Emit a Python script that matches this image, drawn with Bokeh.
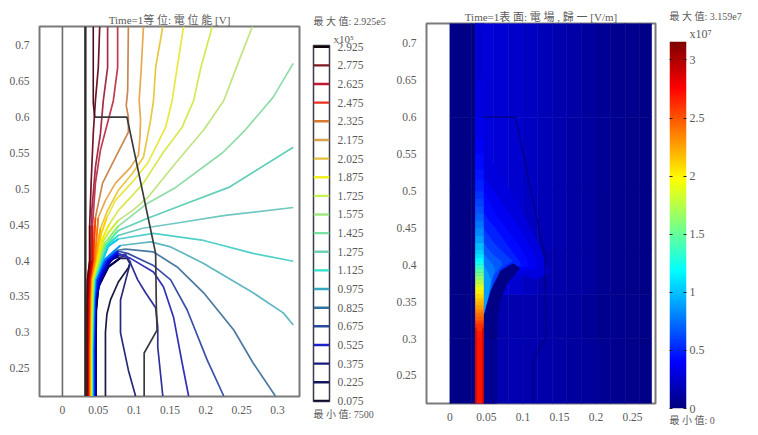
import numpy as np
from bokeh.embed import file_html
from bokeh.layouts import column, row
from bokeh.models import (ColumnDataSource, FixedTicker, LinearAxis, LinearColorMapper, Range1d, Title)
from bokeh.plotting import figure
from bokeh.resources import INLINE
from bokeh.transform import transform

FONT = "Liberation Serif, Noto Sans CJK TC"
INK = "#5a5a5a"

x_ticks = [0, 0.05, 0.1, 0.15, 0.2, 0.25, 0.3]
x_ticks_r = [0, 0.05, 0.1, 0.15, 0.2, 0.25]
y_ticks = [0.25, 0.3, 0.35, 0.4, 0.45, 0.5, 0.55, 0.6, 0.65, 0.7]

levels = [0.075, 0.225, 0.375, 0.525, 0.675, 0.825, 0.975, 1.125, 1.275, 1.425,
          1.575, 1.725, 1.875, 2.025, 2.175, 2.325, 2.475, 2.625, 2.775, 2.925]
level_labels = ["0.075", "0.225", "0.375", "0.525", "0.675", "0.825", "0.975", "1.125", "1.275", "1.425",
                "1.575", "1.725", "1.875", "2.025", "2.175", "2.325", "2.475", "2.625", "2.775", "2.925"]
legend_colors = ["#0c0c30", "#14145e", "#1a1a80", "#2020c8", "#2a4a9e", "#2e70a0", "#38a8c0", "#30e0c8", "#70d0b0", "#78e0a0",
                 "#a0e880", "#c8f050", "#f0f020", "#e0c040", "#d8a050", "#d87830", "#e83020", "#c01830", "#801820", "#100808"]
line_colors = ["#1a1a40", "#28287a", "#30309a", "#3030b8", "#3a50a8", "#4a7aa0", "#60b8c0", "#50d0c8", "#70c8c0", "#60d0b8",
               "#90dca8", "#c0e480", "#d8e850", "#e8e840", "#e8c840", "#e8a850", "#c88850", "#c03a50", "#a82c48", "#701828"]
bundle_colors = ["#000050", "#000078", "#0000a0", "#0000d0", "#0020f0", "#0050ff", "#0090ff", "#00c8f0", "#20e0d0", "#50f0a0",
                 "#90f060", "#c8f030", "#f0f000", "#ffd000", "#ffa800", "#ff7800", "#f84000", "#e01000", "#b00000", "#700000"]

c_x = [
    [0.06, 0.06, 0.062, 0.067, 0.078, 0.092, 0.094, 0.09, 0.08, 0.064, 0.05, 0.047, 0.0465, 0.0465],
    [0.102, 0.092, 0.081, 0.081, 0.092, 0.095, 0.088, 0.07, 0.053, 0.0465, 0.046, 0.046],
    [0.14, 0.133, 0.133, 0.13, 0.116, 0.105, 0.095, 0.088, 0.078, 0.067, 0.053, 0.046, 0.0453, 0.0453],
    [0.176, 0.167, 0.155, 0.141, 0.127, 0.095, 0.078, 0.064, 0.052, 0.0455, 0.0446, 0.0446],
    [0.225, 0.202, 0.174, 0.151, 0.127, 0.091, 0.078, 0.061, 0.049, 0.045, 0.0439, 0.0439],
    [0.297, 0.266, 0.239, 0.197, 0.16, 0.127, 0.088, 0.074, 0.059, 0.047, 0.0445, 0.0432, 0.0432],
    [0.322, 0.308, 0.266, 0.197, 0.151, 0.123, 0.081, 0.057, 0.046, 0.044, 0.0425, 0.0425],
    [0.322, 0.266, 0.197, 0.127, 0.078, 0.064, 0.056, 0.0453, 0.0435, 0.0418, 0.0418],
    [0.322, 0.227, 0.158, 0.112, 0.078, 0.061, 0.054, 0.0446, 0.043, 0.0414, 0.0414],
    [0.322, 0.232, 0.158, 0.119, 0.078, 0.06, 0.053, 0.044, 0.0425, 0.041, 0.041],
    [0.322, 0.294, 0.255, 0.223, 0.204, 0.158, 0.119, 0.078, 0.059, 0.052, 0.043, 0.042, 0.0404, 0.0404],
    [0.265, 0.248, 0.225, 0.197, 0.158, 0.119, 0.098, 0.078, 0.065, 0.057, 0.05, 0.0425, 0.0413, 0.0399, 0.0399],
    [0.209, 0.193, 0.183, 0.167, 0.14, 0.113, 0.095, 0.078, 0.065, 0.056, 0.049, 0.042, 0.0405, 0.0393, 0.0393],
    [0.169, 0.16, 0.153, 0.144, 0.119, 0.098, 0.074, 0.062, 0.054, 0.047, 0.0415, 0.04, 0.0388, 0.0388],
    [0.14, 0.13, 0.127, 0.123, 0.113, 0.098, 0.078, 0.063, 0.053, 0.046, 0.04, 0.0392, 0.0382, 0.0382],
    [0.113, 0.11, 0.107, 0.109, 0.108, 0.106, 0.095, 0.074, 0.06, 0.05, 0.045, 0.0395, 0.0385, 0.0376, 0.0376],
    [0.092, 0.091, 0.089, 0.092, 0.092, 0.074, 0.056, 0.046, 0.043, 0.0385, 0.0378, 0.0367, 0.0367],
    [0.077, 0.077, 0.071, 0.064, 0.053, 0.046, 0.042, 0.042, 0.038, 0.037, 0.036, 0.036],
    [0.063, 0.063, 0.057, 0.053, 0.046, 0.041, 0.04, 0.0365, 0.0355, 0.0349, 0.0349],
    [0.052, 0.05, 0.046, 0.043, 0.04, 0.038, 0.038, 0.035, 0.0345, 0.034, 0.034],
]
c_y = [
    [0.211, 0.3, 0.325, 0.345, 0.37, 0.39, 0.396, 0.403, 0.403, 0.391, 0.363, 0.33, 0.28, 0.211],
    [0.211, 0.247, 0.299, 0.345, 0.387, 0.398, 0.406, 0.403, 0.38, 0.338, 0.275, 0.211],
    [0.211, 0.279, 0.307, 0.334, 0.355, 0.373, 0.396, 0.409, 0.407, 0.4, 0.373, 0.345, 0.275, 0.211],
    [0.211, 0.257, 0.321, 0.363, 0.384, 0.403, 0.41, 0.4, 0.373, 0.345, 0.275, 0.211],
    [0.211, 0.261, 0.331, 0.373, 0.393, 0.41, 0.413, 0.4, 0.373, 0.345, 0.275, 0.211],
    [0.211, 0.257, 0.303, 0.355, 0.391, 0.412, 0.416, 0.414, 0.4, 0.373, 0.345, 0.275, 0.211],
    [0.31, 0.327, 0.355, 0.396, 0.419, 0.426, 0.421, 0.4, 0.373, 0.345, 0.275, 0.211],
    [0.399, 0.41, 0.428, 0.438, 0.43, 0.42, 0.4, 0.373, 0.345, 0.275, 0.211],
    [0.474, 0.463, 0.452, 0.445, 0.435, 0.42, 0.4, 0.373, 0.345, 0.275, 0.211],
    [0.558, 0.502, 0.474, 0.459, 0.442, 0.421, 0.4, 0.373, 0.345, 0.275, 0.211],
    [0.675, 0.628, 0.582, 0.55, 0.536, 0.502, 0.48, 0.448, 0.424, 0.4, 0.373, 0.345, 0.275, 0.211],
    [0.7265, 0.683, 0.623, 0.582, 0.536, 0.488, 0.47, 0.456, 0.44, 0.427, 0.4, 0.373, 0.345, 0.275, 0.211],
    [0.7265, 0.669, 0.623, 0.586, 0.55, 0.508, 0.488, 0.47, 0.45, 0.431, 0.4, 0.373, 0.345, 0.275, 0.211],
    [0.7265, 0.669, 0.623, 0.586, 0.536, 0.51, 0.484, 0.46, 0.437, 0.4, 0.373, 0.345, 0.275, 0.211],
    [0.7265, 0.669, 0.623, 0.596, 0.544, 0.522, 0.498, 0.47, 0.445, 0.4, 0.373, 0.345, 0.275, 0.211],
    [0.7265, 0.669, 0.623, 0.596, 0.57, 0.547, 0.53, 0.508, 0.484, 0.46, 0.4, 0.373, 0.345, 0.275, 0.211],
    [0.7265, 0.637, 0.616, 0.6, 0.579, 0.544, 0.508, 0.46, 0.4, 0.373, 0.345, 0.275, 0.211],
    [0.7265, 0.669, 0.623, 0.596, 0.554, 0.508, 0.449, 0.4, 0.373, 0.345, 0.275, 0.211],
    [0.7265, 0.669, 0.623, 0.577, 0.53, 0.47, 0.4, 0.373, 0.345, 0.275, 0.211],
    [0.7265, 0.669, 0.623, 0.577, 0.508, 0.449, 0.4, 0.373, 0.345, 0.275, 0.211],
]

outline_x = [0.045, 0.09, 0.13, 0.131, 0.132, 0.114, 0.114]
outline_y = [0.6, 0.6, 0.41, 0.335, 0.303, 0.271, 0.211]
rod_x = [0.032, 0.032]
rod2_x = [0.043, 0.043, 0.045]
rod2_y = [0.7265, 0.62, 0.6]
rod_y = [0.211, 0.7265]
axis0_x = [0, 0]

# right panel: field strength in units of 1e7 V/m
E_MAX = 3.159
bg_x = [0, 0.03, 0.035, 0.046, 0.06, 0.08, 0.1, 0.12, 0.14, 0.16, 0.18, 0.2, 0.22, 0.24, 0.26, 0.276]
bg_y = [0.2, 0.3, 0.36, 0.42, 0.5, 0.6, 0.73]
bg_E = [
    [0.03, 0.01, 0.30, 0.07, 0.16, 0.17, 0.16, 0.14, 0.13, 0.11, 0.09, 0.07, 0.05, 0.04, 0.03],
    [0.03, 0.01, 0.30, 0.07, 0.15, 0.16, 0.15, 0.14, 0.12, 0.10, 0.08, 0.06, 0.05, 0.04, 0.03],
    [0.03, 0.01, 0.30, 0.35, 0.30, 0.25, 0.20, 0.16, 0.14, 0.12, 0.10, 0.07, 0.05, 0.04, 0.03],
    [0.03, 0.01, 0.30, 0.32, 0.30, 0.27, 0.22, 0.18, 0.15, 0.12, 0.10, 0.07, 0.05, 0.04, 0.03],
    [0.03, 0.01, 0.30, 0.30, 0.28, 0.25, 0.22, 0.18, 0.15, 0.12, 0.10, 0.08, 0.06, 0.04, 0.03],
    [0.03, 0.01, 0.30, 0.28, 0.26, 0.24, 0.21, 0.18, 0.15, 0.13, 0.10, 0.08, 0.06, 0.05, 0.03],
]
strip_left = 0.035
strip_right = 0.046
strip_edges = [0.2, 0.3, 0.31, 0.32, 0.325, 0.33, 0.335, 0.34, 0.345, 0.35, 0.355, 0.36, 0.365, 0.37, 0.375, 0.38,
               0.385, 0.39, 0.395, 0.4, 0.405, 0.41, 0.415, 0.42, 0.43, 0.44, 0.45, 0.46, 0.47, 0.48, 0.49, 0.5,
               0.515, 0.53, 0.55, 0.57, 0.6, 0.65, 0.73]
strip_E = [2.7, 2.68, 2.62, 2.55, 2.48, 2.42, 2.35, 2.28, 2.22, 2.15, 2.08, 2.02, 1.94, 1.85, 1.75,
           1.65, 1.55, 1.45, 1.35, 1.25, 1.17, 1.1, 1.04, 0.98, 0.9, 0.82, 0.76, 0.7, 0.65, 0.6, 0.55,
           0.5, 0.46, 0.42, 0.38, 0.34, 0.3, 0.27]
edge_left = [0.035, 0.0445]
edge_right = [0.0365, 0.046]
edge_top = [0.315, 0.315]
edge_E = [2.95, 2.95]
glow_E = [0.3, 0.36, 0.42, 0.5, 0.58, 0.67, 0.77, 0.88]
glow_x = [
    [0.046, 0.07, 0.1, 0.125, 0.135, 0.12, 0.1, 0.09, 0.07, 0.05, 0.046],
    [0.046, 0.07, 0.095, 0.115, 0.12, 0.1, 0.085, 0.06, 0.05, 0.046],
    [0.046, 0.065, 0.085, 0.105, 0.108, 0.09, 0.06, 0.05, 0.046],
    [0.046, 0.062, 0.08, 0.095, 0.098, 0.08, 0.055, 0.046],
    [0.046, 0.06, 0.075, 0.086, 0.07, 0.055, 0.046],
    [0.046, 0.058, 0.07, 0.072, 0.06, 0.052, 0.046],
    [0.046, 0.055, 0.062, 0.058, 0.05, 0.046],
    [0.046, 0.052, 0.056, 0.054, 0.048, 0.046],
]
glow_y = [
    [0.56, 0.52, 0.47, 0.42, 0.39, 0.38, 0.385, 0.385, 0.36, 0.33, 0.33],
    [0.52, 0.485, 0.45, 0.415, 0.395, 0.392, 0.385, 0.35, 0.33, 0.33],
    [0.5, 0.465, 0.44, 0.41, 0.398, 0.395, 0.35, 0.33, 0.33],
    [0.47, 0.45, 0.425, 0.405, 0.398, 0.4, 0.345, 0.33],
    [0.45, 0.43, 0.415, 0.405, 0.395, 0.35, 0.33],
    [0.43, 0.415, 0.405, 0.4, 0.385, 0.345, 0.325],
    [0.415, 0.405, 0.395, 0.38, 0.34, 0.325],
    [0.4, 0.39, 0.38, 0.365, 0.335, 0.325],
]
tip_E = [0.07, 0.03]
tip_x = [
    [0.046, 0.065, 0.065, 0.046],
    [0.046, 0.05, 0.056, 0.069, 0.087, 0.096, 0.088, 0.079, 0.069, 0.065, 0.065, 0.046],
]
tip_y = [
    [0.33, 0.33, 0.2, 0.2],
    [0.33, 0.345, 0.365, 0.392, 0.402, 0.395, 0.385, 0.375, 0.352, 0.325, 0.3, 0.3],
]
bar_ticks = [0, 0.5, 1, 1.5, 2, 2.5, 3]


def jet(t):
    r = np.clip(1.5 - abs(4 * t - 3), 0, 1)
    g = np.clip(1.5 - abs(4 * t - 2), 0, 1)
    b = np.clip(1.5 - abs(4 * t - 1), 0, 1)
    return "#%02x%02x%02x" % (int(r * 255), int(g * 255), int(b * 255))


JET = [jet(i / 255) for i in range(256)]
mapper = LinearColorMapper(palette=JET, low=0, high=E_MAX)


def fmt(v):
    return ("%g" % v)


def style(p, xt, yt):
    p.grid.visible = False
    p.outline_line_color = "#7a7a7a"
    p.outline_line_width = 2
    p.xaxis.ticker = FixedTicker(ticks=xt)
    p.yaxis.ticker = FixedTicker(ticks=yt)
    p.xaxis.major_label_overrides = {v: fmt(v) for v in xt}
    p.yaxis.major_label_overrides = {v: fmt(v) for v in yt}
    for ax in (p.xaxis[0], p.yaxis[0]):
        ax.axis_line_color = None
        ax.major_tick_line_color = None
        ax.minor_tick_line_color = None
        ax.major_label_text_font = FONT
        ax.major_label_text_font_size = "11.5px"
        ax.major_label_text_color = INK
    p.xaxis.major_label_standoff = 3
    p.yaxis.major_label_standoff = 4
    p.title.text_font = FONT
    p.title.text_font_size = "11px"
    p.title.text_font_style = "normal"
    p.title.text_color = INK
    p.title.align = "center"
    p.title.standoff = 2


def ttl(p, text, side, standoff, offset=0, size="10px"):
    p.add_layout(Title(text=text, text_font=FONT, text_font_size=size, text_font_style="normal",
                       text_color=INK, align="left", standoff=standoff, offset=offset), side)


# left: contours
p1 = figure(width=305, height=435, output_backend="svg", toolbar_location=None,
            x_range=Range1d(-0.032, 0.3307), y_range=Range1d(0.2103, 0.7265),
            min_border_left=39, min_border_right=6, min_border_top=26, min_border_bottom=39,
            title="Time=1等 位: 電 位 能 [V]")
style(p1, x_ticks, y_ticks)
p1.line(axis0_x, rod_y, line_color="#6a6a6a", line_width=1.6)
for xs, ys, col in zip(c_x, c_y, line_colors):
    p1.line(xs, ys, line_color=col, line_width=1.7, line_join="round")
for k, (xs, ys, col) in enumerate(zip(c_x, c_y, bundle_colors)):
    start = max(i for i in range(len(xs)) if xs[i] >= 0.085 or ys[i] >= 0.47 or i == 0) + 1
    # the saturated fan is the trailing, electrode-hugging branch of each contour
    p1.line(xs[start:], ys[start:], line_color=col, line_width=2.2 if k < 6 else 1.7, line_join="round")
p1.line(rod_x, rod_y, line_color="#2a2a2a", line_width=2.4)
p1.line(rod2_x, rod2_y, line_color="#4a1020", line_width=1.6)
p1.line(outline_x, outline_y, line_color="#3a3a3a", line_width=1.7)

# left colour key
cb1 = figure(width=85, height=435, output_backend="svg", toolbar_location=None,
             x_range=Range1d(0, 1), y_range=Range1d(0.07, 2.935),
             min_border_left=8, min_border_right=61, min_border_top=45, min_border_bottom=34,
             x_axis_location=None, y_axis_location=None)
cb1.grid.visible = False
cb1.outline_line_color = "#3a3a4a"
cb1.outline_line_width = 1.5
cb1.segment(x0=[0] * 20, x1=[1] * 20, y0=levels, y1=levels, line_color=legend_colors, line_width=2.4)
ax1 = LinearAxis(ticker=FixedTicker(ticks=levels), major_label_overrides=dict(zip(levels, level_labels)))
ax1.axis_line_color = None
ax1.major_tick_line_color = None
ax1.minor_tick_line_color = None
ax1.major_label_text_font = FONT
ax1.major_label_text_font_size = "11.5px"
ax1.major_label_text_color = INK
ax1.major_label_standoff = 2
cb1.add_layout(ax1, "right")
ttl(cb1, "x10⁵", "above", 2, 20, "11px")
ttl(cb1, "最 大 值: 2.925e5", "above", 6)
ttl(cb1, "最 小 值: 7500", "below", 10)

# right: field surface
p2 = figure(width=272, height=435, output_backend="svg", toolbar_location=None,
            x_range=Range1d(-0.032, 0.2814), y_range=Range1d(0.212, 0.727),
            min_border_left=36, min_border_right=7, min_border_top=23, min_border_bottom=32,
            title="Time=1表 面: 電 場 , 歸 一 [V/m]")
style(p2, x_ticks_r, y_ticks)
rows = [(bg_x[j], bg_x[j + 1], bg_y[i], bg_y[i + 1], bg_E[i][j]) for i in range(len(bg_E)) for j in range(len(bg_E[0]))]
src_bg = ColumnDataSource(dict(l=[r[0] for r in rows], r=[r[1] for r in rows], b=[r[2] for r in rows],
                               t=[r[3] for r in rows], E=[r[4] for r in rows]))
p2.quad(left="l", right="r", bottom="b", top="t", source=src_bg, fill_color=transform("E", mapper),
        line_color=transform("E", mapper), line_width=0.6)
src_glow = ColumnDataSource(dict(x=glow_x, y=glow_y, E=glow_E))
p2.patches("x", "y", source=src_glow, fill_color=transform("E", mapper), line_color=None)
src_tip = ColumnDataSource(dict(x=tip_x, y=tip_y, E=tip_E))
p2.patches("x", "y", source=src_tip, fill_color=transform("E", mapper), line_color=None)
src_strip = ColumnDataSource(dict(b=strip_edges[:-1], t=strip_edges[1:], E=strip_E))
p2.quad(left=strip_left, right=strip_right, bottom="b", top="t", source=src_strip,
        fill_color=transform("E", mapper), line_color=transform("E", mapper), line_width=0.6)
src_edge = ColumnDataSource(dict(l=edge_left, r=edge_right, t=edge_top, E=edge_E))
p2.quad(left="l", right="r", bottom=0.2, top="t", source=src_edge, fill_color=transform("E", mapper), line_color=None)
p2.line(outline_x, outline_y, line_color="#000078", line_width=1.5, line_alpha=0.75)

# right colour bar
cb2 = figure(width=96, height=435, output_backend="svg", toolbar_location=None,
             x_range=Range1d(0, 1), y_range=Range1d(0, E_MAX),
             min_border_left=7, min_border_right=72, min_border_top=41, min_border_bottom=27,
             x_axis_location=None, y_axis_location=None)
cb2.grid.visible = False
cb2.outline_line_color = None
ramp = np.linspace(0, E_MAX, 256).reshape(-1, 1)
cb2.image(image=[ramp], x=0, y=0, dw=1, dh=E_MAX, color_mapper=mapper)
ax2 = LinearAxis(ticker=FixedTicker(ticks=bar_ticks), major_label_overrides={v: fmt(v) for v in bar_ticks})
ax3 = LinearAxis(ticker=FixedTicker(ticks=bar_ticks), major_label_overrides={v: "" for v in bar_ticks})
for ax in (ax2, ax3):
    ax.axis_line_color = None
    ax.major_tick_in = 3
    ax.major_tick_out = 0
    ax.major_tick_line_color = "#202020"
    ax.minor_tick_line_color = None
    ax.major_label_text_font = FONT
    ax.major_label_text_font_size = "12px"
    ax.major_label_text_color = INK
    ax.major_label_standoff = 3
cb2.add_layout(ax2, "right")
cb2.add_layout(ax3, "left")
ttl(cb2, "x10⁷", "above", 1, 20, "12px")
ttl(cb2, "最 大 值: 3.159e7", "above", 6)
ttl(cb2, "最 小 值: 0", "below", 8)

layout = row(column(p1), column(cb1), column(p2), column(cb2), spacing=0)
open("out.html", "w").write(file_html(layout, INLINE))
